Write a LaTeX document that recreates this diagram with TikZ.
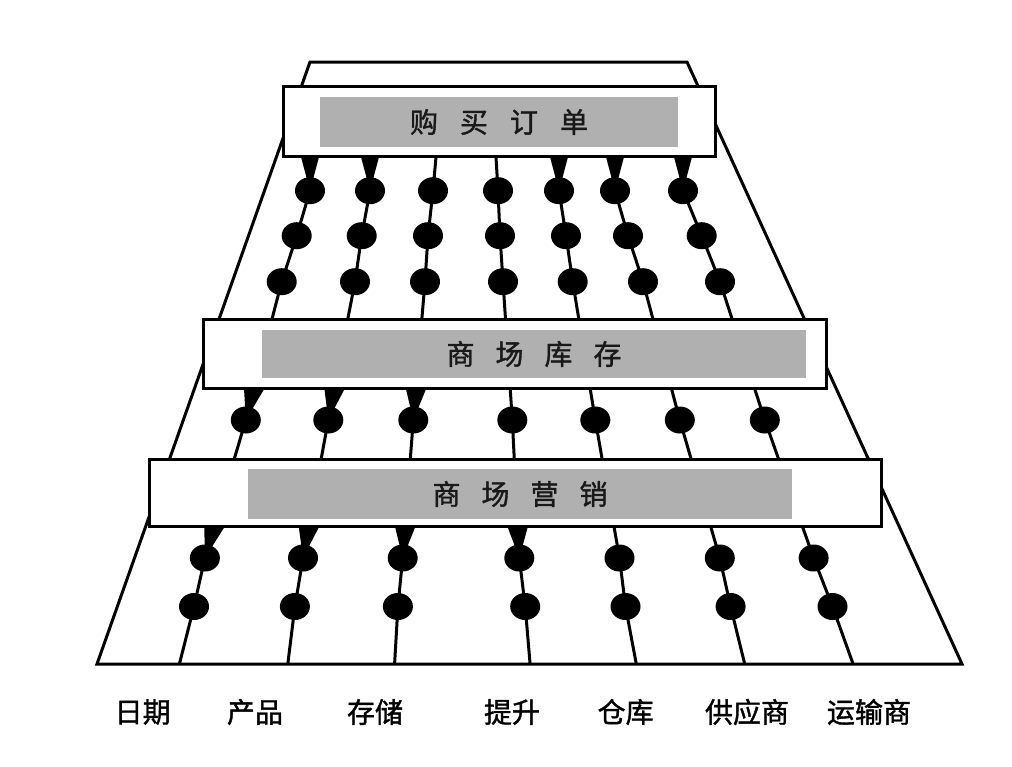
\documentclass[tikz,border=0pt]{standalone}
\usepackage{fontspec}
\newfontfamily\cjk[FakeBold=1.3]{Noto Sans CJK SC}
\usetikzlibrary{shapes.geometric,calc}
\definecolor{bargray}{RGB}{176,176,176}
\begin{document}
\begin{tikzpicture}[x=1pt,y=-1pt,
  edge/.style={line width=3pt},
  outline/.style={draw=black, line width=3pt, line join=miter},
  frame/.style={draw=black, line width=3pt, fill=white, inner sep=0pt, outer sep=0pt},
  bar/.style={fill=bargray, inner sep=0pt, outer sep=0pt},
  dot/.style={ellipse, fill=black, minimum width=30pt, minimum height=27pt, inner sep=0pt},
  title/.style={font=\cjk\fontsize{28}{30}\selectfont, text=black!90},
  lab/.style={font=\cjk\fontsize{28}{32}\selectfont, text=black}]
\useasboundingbox (0,0) rectangle (1012,766);
\fill[white] (0,0) rectangle (1012,766);

% outer trapezoid
\coordinate (tl) at (310,62);
\coordinate (tr) at (687,62);
\coordinate (br) at (962,664);
\coordinate (bl) at (97,664);
\draw[outline] (tl) -- (tr) -- (br) -- (bl) -- cycle;

% dots and line ends
\foreach \i/\tx/\ax/\bx/\cx/\dx/\ex/\fx/\gx in {
  1/310/310/296.7/281.7/245.8/204.9/194/179.4,
  2/370/370/361.7/355/328.3/303/294.9/287.8,
  3/436/433/428/425/413.3/402.7/397.9/394.6,
  4/496/498/500/503/512.3/519.3/525.2/530.1,
  5/559/559/566/572.7/595.3/619.5/625.5/636.3,
  6/615/615/628/643/679.8/719.8/730.6/744.7,
  7/683/683/701.7/720/764.8/813.6/832.5/853.1}{
  \coordinate (T\i) at (\tx,157);
  \node[dot] (A\i) at (\ax,190.7) {};
  \node[dot] (B\i) at (\bx,235.7) {};
  \node[dot] (C\i) at (\cx,281.7) {};
  \node[dot] (D\i) at (\dx,420) {};
  \node[dot] (E\i) at (\ex,558) {};
  \node[dot] (F\i) at (\fx,606.5) {};
  \coordinate (G\i) at (\gx,664);
  \draw[edge] (T\i) -- (A\i.center) -- (B\i.center) -- (C\i.center) -- (D\i.center)
     -- (E\i.center) -- (F\i.center) -- (G\i);
}

% banner boxes
\node[frame, minimum width=432pt, minimum height=70pt] (box1) at (499,121) {};
\node[bar, minimum width=358pt, minimum height=50pt, title] (bar1) at (499,122)
  {购\hspace{22pt}买\hspace{22pt}订\hspace{22pt}单};

\node[frame, minimum width=623pt, minimum height=69pt] (box2) at (514.5,353.5) {};
\node[bar, minimum width=544pt, minimum height=48pt, title] (bar2) at (534,354)
  {商\hspace{21pt}场\hspace{21pt}库\hspace{21pt}存};

\node[frame, minimum width=732pt, minimum height=67pt] (box3) at (515,492.5) {};
\node[bar, minimum width=544pt, minimum height=50pt, title] (bar3) at (520,494)
  {商\hspace{21pt}场\hspace{21pt}营\hspace{21pt}销};

% arrowheads below the boxes
\foreach \i in {1,2,5,6,7}{
  \fill (T\i) ++(-9,0) -- ++(18,0) -- (A\i.center) -- cycle;
}
\foreach \i in {1,2,3}{
  \coordinate (P\i) at ($(C\i.center)!0.77!(D\i.center)$);
  \fill (P\i) ++(-10,1) -- ++(20,0) -- (D\i.center) -- cycle;
}
\foreach \i in {1,2,3,4}{
  \coordinate (Q\i) at ($(D\i.center)!0.77!(E\i.center)$);
  \fill (Q\i) ++(-10,1) -- ++(20,0) -- (E\i.center) -- cycle;
}

% dimension labels
\node[lab] (l1) at (142.7,712) {日期};
\node[lab] (l2) at (255,712) {产品};
\node[lab] (l3) at (375,712) {存储};
\node[lab] (l4) at (512,712) {提升};
\node[lab] (l5) at (625.6,712) {仓库};
\node[lab] (l6) at (747,712) {供应商};
\node[lab] (l7) at (869,712) {运输商};
\end{tikzpicture}
\end{document}
